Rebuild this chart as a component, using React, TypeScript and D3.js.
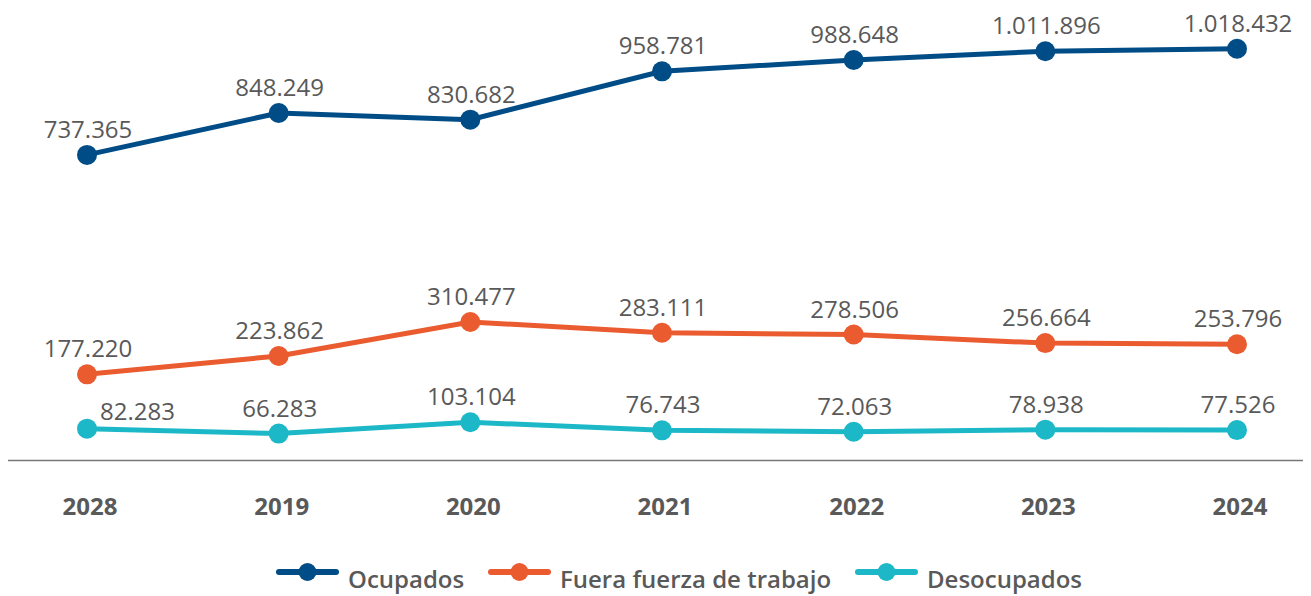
import React from 'react'
import * as d3 from 'd3'

const years = ['2028', '2019', '2020', '2021', '2022', '2023', '2024']
const ocupados = [737365, 848249, 830682, 958781, 988648, 1011896, 1018432]
const fuera = [177220, 223862, 310477, 283111, 278506, 256664, 253796]
const desocupados = [82283, 66283, 103104, 76743, 72063, 78938, 77526]

const seriesNames = ['Ocupados', 'Fuera fuerza de trabajo', 'Desocupados']
const seriesColors = ['#004c86', '#ea5b2f', '#1cb8c8']

const W = 1311
const H = 596
const font = "'Open Sans', sans-serif"

function fmt(v: number) {
  return d3.format(',')(v).replace(/,/g, '.')
}

export default function App() {
  const x = d3.scalePoint().domain(years).range([87, 1237])
  // the source chart squeezes the gaps between the three bands
  const y = d3.scaleLinear()
    .domain([0, 120000, 150000, 700000, 1100000])
    .range([454, 417, 385, 169, 18])

  const all = [ocupados, fuera, desocupados]
  const line = d3.line<number>()
    .x((d, i) => x(years[i]) as number)
    .y(d => y(d))

  return (
    <svg width={W} height={H} style={{ position: 'absolute', left: 0, top: 0 }}>
      <line x1={8} x2={1303} y1={460.5} y2={460.5} stroke="#777" strokeWidth={1.3} />
      {all.map((s, si) => (
        <g key={si}>
          <path d={line(s) || ''} fill="none" stroke={seriesColors[si]} strokeWidth={5} />
          {s.map((v, i) => (
            <circle key={i} cx={x(years[i])} cy={y(v)} r={10} fill={seriesColors[si]} />
          ))}
          {s.map((v, i) => {
            let dx = 1
            let dy = -17
            let anchor = 'middle'
            if (si === 2 && i === 0) { dx = 13; dy = -9; anchor = 'start' }
            return (
              <text key={'t' + i} x={(x(years[i]) as number) + dx} y={y(v) + dy}
                textAnchor={anchor} fontFamily={font} fontSize={24} fill="#595959">
                {fmt(v)}
              </text>
            )
          })}
        </g>
      ))}
      {years.map(yr => (
        <text key={yr} x={(x(yr) as number) + 3} y={515} textAnchor="middle"
          fontFamily={font} fontSize={24} fontWeight={700} fill="#595959">{yr}</text>
      ))}
      {seriesNames.map((n, i) => {
        const lx = [279, 491, 858][i]
        return (
          <g key={n} transform={`translate(${lx},572)`}>
            <line x1={0} x2={57} y1={0} y2={0} stroke={seriesColors[i]} strokeWidth={6} strokeLinecap="round" />
            <circle cx={28.5} cy={0} r={9} fill={seriesColors[i]} />
            <text x={69} y={16} fontFamily={font} fontSize={24} fontWeight={600} fill="#595959">{n}</text>
          </g>
        )
      })}
    </svg>
  )
}
